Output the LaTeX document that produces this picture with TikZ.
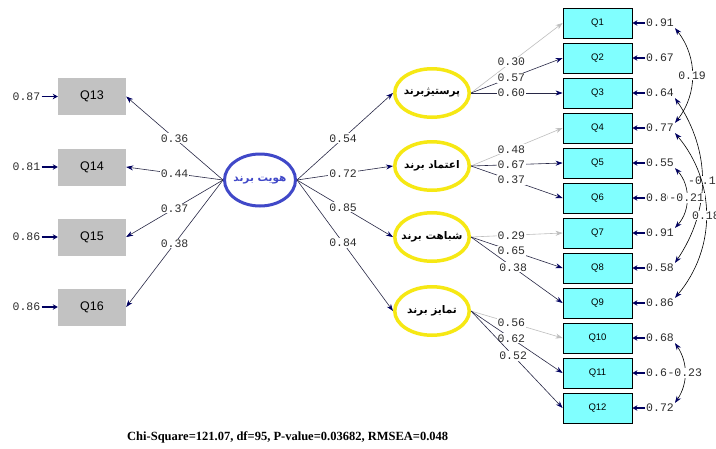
\documentclass[tikz,border=0pt]{standalone}
\usepackage{fontspec}
\setmainfont{Liberation Serif}
\newfontfamily\arabicfont[Script=Arabic]{DejaVu Sans}
\newfontfamily\monofont{Liberation Mono}
\newfontfamily\arialfont{Liberation Sans}
\TeXXeTstate=1
\usetikzlibrary{arrows.meta,shapes.geometric}
\definecolor{boxcyan}{RGB}{128,255,255}
\definecolor{boxgray}{RGB}{194,194,194}
\definecolor{ellblue}{RGB}{64,72,200}
\definecolor{ellyellow}{RGB}{246,232,20}
\definecolor{navyc}{RGB}{0,0,96}
\definecolor{lineclr}{RGB}{40,40,70}
\definecolor{fixgray}{RGB}{190,190,190}
\definecolor{numclr}{RGB}{45,45,45}
\newcommand\pstext[1]{\makebox[0pt]{\beginR #1\endR}}
\tikzset{
  rbox/.style={draw=black, line width=0.8pt, fill=boxcyan, minimum width=69, minimum height=30, inner sep=0pt, font=\arialfont\fontsize{9.5}{9.5}\selectfont},
  lbox/.style={fill=boxgray, minimum width=68, minimum height=37, inner sep=0pt, font=\arialfont\fontsize{12.5}{12.5}\selectfont},
  latent/.style={ellipse, draw=ellyellow, line width=3.5pt, minimum width=74.5, minimum height=48.5, inner sep=0pt, font=\arabicfont\bfseries\fontsize{10.5}{10.5}\selectfont},
  cent/.style={ellipse, draw=ellblue, line width=3pt, minimum width=71, minimum height=52, inner sep=0pt, text=ellblue, font=\arabicfont\bfseries\fontsize{10.5}{10.5}\selectfont},
  errlab/.style={font=\monofont\fontsize{11.5}{11.5}\selectfont, inner sep=1pt, text=numclr},
  lab/.style={font=\monofont\fontsize{11.5}{11.5}\selectfont, inner sep=1pt, fill=white, text=numclr},
  ld/.style={draw=lineclr, line width=0.6pt, -{Stealth[length=7pt,width=5pt,color=navyc]}},
  fixd/.style={draw=fixgray, line width=0.6pt, -{Stealth[length=7pt,width=5pt,color=fixgray]}},
  errarrow/.style={draw=navyc, line width=1.8pt, -{Stealth[length=5pt,width=5.5pt]}},
  cov/.style={draw=black, line width=0.6pt, {Stealth[length=7pt,width=5pt,color=navyc]}-{Stealth[length=7pt,width=5pt,color=navyc]}}
}
\begin{document}
\begin{tikzpicture}[x=1pt,y=-1pt]
\useasboundingbox[fill=white] (0,0) rectangle (716,448);
% left indicators
\node[lbox] (q13) at (92,96.5) {Q13};
\node[lbox] (q14) at (92,167) {Q14};
\node[lbox] (q15) at (92,237) {Q15};
\node[lbox] (q16) at (92,307) {Q16};
\node[errlab] (e13) at (26.5,96.5) {0.87};
\node[errlab] (e14) at (26.5,167) {0.81};
\node[errlab] (e15) at (26.5,237) {0.86};
\node[errlab] (e16) at (26.5,307) {0.86};
\foreach \i in {13,14,15,16} {\draw[errarrow] (e\i.east) -- (q\i.west);}
% central latent
\node[cent] (c) at (260,180) {\pstext{هویت برند}};
% first-order latents
\node[latent] (y1) at (432,93) {\pstext{پرستیژبرند}};
\node[latent] (y2) at (432,166) {\pstext{اعتماد برند}};
\node[latent] (y3) at (432,237) {\pstext{شباهت برند}};
\node[latent] (y4) at (432,311) {\pstext{تمایز برند}};
% right indicators
\foreach \i in {1,...,12} {
  \node[rbox] (q\i) at (597.5,{23+35*(\i-1)}) {Q\i};
}
\foreach \i/\v in {1/0.91,2/0.67,3/0.64,4/0.77,5/0.55,6/0.86,7/0.91,8/0.58,9/0.86,10/0.68,11/0.62,12/0.72} {
  \node[errlab, anchor=west] (r\i) at (645,{23+35*(\i-1)}) {\v};
  \draw[errarrow] (r\i.west) -- (q\i.east);
}
% central loadings
\draw[ld] (c.west) -- node[lab,pos=0.5]{0.36} (q13.east);
\draw[ld] (c.west) -- node[lab,pos=0.5]{0.44} (q14.east);
\draw[ld] (c.west) -- node[lab,pos=0.5]{0.37} (q15.east);
\draw[ld] (c.west) -- node[lab,pos=0.5]{0.38} (q16.east);
\draw[ld] (c.east) -- node[lab,pos=0.48]{0.54} (y1.west);
\draw[ld] (c.east) -- node[lab,pos=0.48]{0.72} (y2.west);
\draw[ld] (c.east) -- node[lab,pos=0.48]{0.85} (y3.west);
\draw[ld] (c.east) -- node[lab,pos=0.48]{0.84} (y4.west);
% first-order loadings
\draw[fixd] (y1.east) -- node[lab,pos=0.44]{0.30} (q1.west);
\draw[ld] (y1.east) -- node[lab,pos=0.44]{0.57} (q2.west);
\draw[ld] (y1.east) -- node[lab,pos=0.44]{0.60} (q3.west);
\draw[fixd] (y2.east) -- node[lab,pos=0.44]{0.48} (q4.west);
\draw[ld] (y2.east) -- node[lab,pos=0.44]{0.67} (q5.west);
\draw[ld] (y2.east) -- node[lab,pos=0.44]{0.37} (q6.west);
\draw[fixd] (y3.east) -- node[lab,pos=0.44]{0.29} (q7.west);
\draw[ld] (y3.east) -- node[lab,pos=0.44]{0.65} (q8.west);
\draw[ld] (y3.east) -- node[lab,pos=0.46]{0.38} (q9.west);
\draw[fixd] (y4.east) -- node[lab,pos=0.44]{0.56} (q10.west);
\draw[ld] (y4.east) -- node[lab,pos=0.44]{0.62} (q11.west);
\draw[ld] (y4.east) -- node[lab,pos=0.46]{0.52} (q12.west);
% error covariances
\draw[cov] (r1.south east) to[bend left=38] node[lab,midway]{0.19} (r4.north east);
\draw[cov] (r3.south east) to[bend left=34] node[lab,midway]{-0.1} (r8.north east);
\draw[cov] (r4.south east) to[bend left=40] node[lab,midway]{0.18} (r9.north east);
\draw[cov] (r5.south east) to[bend left=42] node[lab,midway]{-0.21} (r7.north east);
\draw[cov] (r10.south east) to[bend left=34] node[lab,midway]{-0.23} (r12.north east);
% fit statistics
\node[font=\bfseries\fontsize{12.5}{12.5}\selectfont, anchor=west, inner sep=0pt] (fit) at (127,437) {Chi-Square=121.07, df=95, P-value=0.03682, RMSEA=0.048};
\end{tikzpicture}
\end{document}
